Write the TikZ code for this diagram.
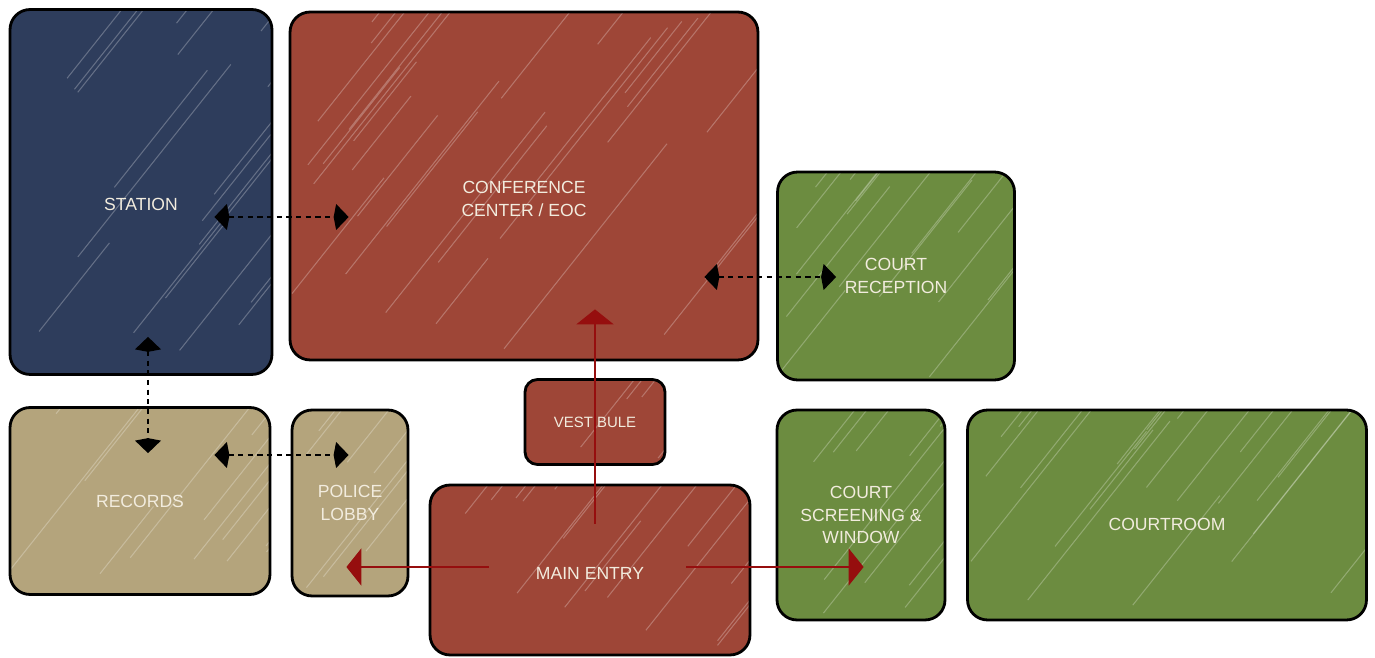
\documentclass[tikz,border=0pt]{standalone}
\usepackage{fontspec}
\setmainfont{Liberation Sans}
\usepackage{xcolor}
\usetikzlibrary{calc,arrows.meta}

\definecolor{navyroom}{RGB}{46,61,92}
\definecolor{brickroom}{RGB}{158,70,55}
\definecolor{greenroom}{RGB}{108,140,64}
\definecolor{tanroom}{RGB}{180,164,124}
\definecolor{roomtext}{RGB}{242,236,222}
\definecolor{flowred}{RGB}{150,14,14}

% white pencil strokes inside a room
\tikzset{
  streaks/.style={path picture={
    \foreach \k in {1,...,#1}{
      \pgfmathsetmacro{\px}{rnd}
      \pgfmathsetmacro{\py}{rnd}
      \pgfmathsetmacro{\slen}{80+200*rnd}
      \coordinate (sa) at ($(path picture bounding box.south west)!\px!(path picture bounding box.south east)$);
      \coordinate (sb) at ($(path picture bounding box.south west)!\py!(path picture bounding box.north west)$);
      \draw[white, opacity=0.26, line width=0.6pt] (sa |- sb) -- ++(0.62*\slen,-0.78*\slen);
    }
  }}
}

\begin{document}
\begin{tikzpicture}[x=0.02cm, y=-0.02cm, every node/.style={font=\fontsize{10}{13}\selectfont}]
  \tikzstyle{room} = [rectangle, rounded corners=0.4cm, draw=black, line width=1.6pt,
                      text=roomtext, align=center, inner sep=0pt]
  \tikzstyle{link} = [black, line width=1.1pt, dash pattern=on 3pt off 2.5pt,
                      {Kite[length=0.3cm,width=0.52cm,inset=0.05cm]}-{Kite[length=0.3cm,width=0.52cm,inset=0.05cm]}]
  \tikzstyle{flow} = [flowred, line width=1.3pt, -{Triangle[length=0.3cm,width=0.74cm]}]
  \pgfmathsetseed{7}
  \useasboundingbox (0,0) rectangle (1375,658);

  \node (station) [room, fill=navyroom, minimum width=5.24cm, minimum height=7.3cm, streaks=18,
                   text height=20.8pt] at (141,192) {STATION};
  \node (conf) [room, fill=brickroom, minimum width=9.36cm, minimum height=6.96cm, streaks=28,
                text height=35pt] at (524,186) {CONFERENCE\\CENTER / EOC};
  \node (reception) [room, fill=greenroom, minimum width=4.74cm, minimum height=4.16cm, streaks=15] at (896,276) {COURT\\RECEPTION};
  \node (vestibule) [room, fill=brickroom, rounded corners=0.25cm, minimum width=2.8cm, minimum height=1.7cm, streaks=4,
                     font=\fontsize{8.5}{10}\selectfont] at (595,422) {VESTIBULE};
  \node (records) [room, fill=tanroom, minimum width=5.2cm, minimum height=3.74cm, streaks=13] at (140,501) {RECORDS};
  \node (police) [room, fill=tanroom, minimum width=2.32cm, minimum height=3.72cm, streaks=7] at (350,503) {POLICE\\LOBBY};
  \node (main) [room, fill=brickroom, minimum width=6.4cm, minimum height=3.4cm, streaks=15,
                text height=11pt] at (590,570) {MAIN ENTRY};
  \node (screening) [room, fill=greenroom, minimum width=3.36cm, minimum height=4.2cm, streaks=10] at (861,515) {COURT\\SCREENING \&\\WINDOW};
  \node (courtroom) [room, fill=greenroom, minimum width=7.98cm, minimum height=4.2cm, streaks=22,
                     text height=17.4pt] at (1167,515) {COURTROOM};

  \draw [link] ($(station.east)+(-59,25)$) -- ($(conf.west)+(60,31)$);
  \draw [link] ($(station.south)+(7,-39)$) -- ($(records.north)+(8,47)$);
  \draw [link] ($(records.east)+(-57,-46)$) -- ($(police.west)+(58,-48)$);
  \draw [link] ($(conf.east)+(-55,91)$) -- ($(reception.west)+(60,1)$);

  \draw [flow] ($(main.west)+(60,-3)$) -- ($(police.east)+(-63,64)$);
  \draw [flow] ($(main.east)+(-65,-3)$) -- ($(screening.west)+(88,52)$);
  \draw [flow] ($(main.north)+(5,40)$) -- ($(conf.south)+(71,-52)$);
\end{tikzpicture}
\end{document}
